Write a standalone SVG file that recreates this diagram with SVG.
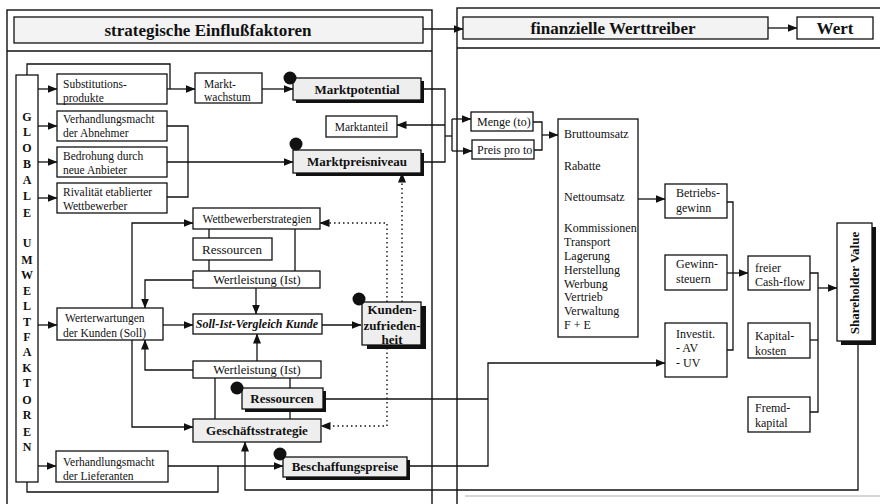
<svg xmlns="http://www.w3.org/2000/svg" width="880" height="504" viewBox="0 0 880 504">
<style>
.pnl{fill:none;stroke:#111;stroke-width:1.4}
.box{fill:#fff;stroke:#111;stroke-width:1.3}
.hbox{fill:#eeeeee;stroke:#111;stroke-width:1.3}
.tbox{fill:#f3f3f3;stroke:#111;stroke-width:1.3}
.sh{fill:#111}
.dotc{fill:#111}
.ln{fill:none;stroke:#111;stroke-width:1.3}
.dl{fill:none;stroke:#111;stroke-width:1.4;stroke-dasharray:1.5,3}
text{font-family:"Liberation Serif","Times New Roman",serif;fill:#111}
.t{font-size:11.5px}
.r{font-size:12px}
.c{text-anchor:middle}
.b{font-size:13px;font-weight:bold;text-anchor:middle}
.ti{font-size:17px;font-weight:bold;text-anchor:middle}
.g{font-size:12px;font-weight:bold;text-anchor:middle}
</style>
<defs>
<marker id="a" markerWidth="10" markerHeight="8" refX="9.5" refY="4" orient="auto" markerUnits="userSpaceOnUse"><path d="M0,0 L10,4 L0,8 z" fill="#111"/></marker>
</defs>
<rect x="0" y="0" width="880" height="504" fill="#fff"/>
<g id="panels">
<rect class="pnl" x="7" y="10" width="425" height="510"/>
<line class="pnl" x1="7" y1="51" x2="432" y2="51"/>
<rect class="pnl" x="457" y="8" width="440" height="510"/>
<line class="pnl" x1="457" y1="48" x2="880" y2="48"/>
<line x1="465" y1="496" x2="880" y2="496" stroke="#c8c8c8" stroke-width="1.4"/>
</g>
<g id="connectors">
<path class="ln" d="M423,29 H463" marker-end="url(#a)"/>
<path class="ln" d="M768,28 H797" marker-end="url(#a)"/>
<path class="ln" d="M38,89 H57" marker-end="url(#a)"/>
<path class="ln" d="M38,126 H57" marker-end="url(#a)"/>
<path class="ln" d="M38,162 H57" marker-end="url(#a)"/>
<path class="ln" d="M38,198 H57" marker-end="url(#a)"/>
<path class="ln" d="M38,325 H57" marker-end="url(#a)"/>
<path class="ln" d="M38,466 H56" marker-end="url(#a)"/>
<path class="ln" d="M27,75 V64 H170 V89"/>
<path class="ln" d="M167,89 H195" marker-end="url(#a)"/>
<path class="ln" d="M167,126 H188 V197 H167"/>
<path class="ln" d="M167,162 H293" marker-end="url(#a)"/>
<path class="ln" d="M262,89 H293" marker-end="url(#a)"/>
<path class="ln" d="M424,89 H445 V162 H424"/>
<path class="ln" d="M445,125 H397" marker-end="url(#a)"/>
<path class="ln" d="M445,136 H452"/>
<path class="ln" d="M452,119 V151"/>
<path class="ln" d="M452,119 H471" marker-end="url(#a)"/>
<path class="ln" d="M452,151 H472" marker-end="url(#a)"/>
<path class="ln" d="M533,122 H542 V150 H534"/>
<path class="ln" d="M542,135 H558" marker-end="url(#a)"/>
<path class="ln" d="M638,199 H665" marker-end="url(#a)"/>
<path class="ln" d="M727,202 H733 V350 H727"/>
<path class="ln" d="M727,273 H748" marker-end="url(#a)"/>
<path class="ln" d="M810,273 H818 V412 H810"/>
<path class="ln" d="M810,340 H818"/>
<path class="ln" d="M818,288 H837" marker-end="url(#a)"/>
<path class="ln" d="M858,343 V490 H245 V442" marker-end="url(#a)"/>
<path class="ln" d="M326,399 H488"/>
<path class="ln" d="M410,466 H488 V363 H665" marker-end="url(#a)"/>
<path class="ln" d="M168,466 H283" marker-end="url(#a)"/>
<path class="ln" d="M27,482 V492 H218 V466"/>
<path class="ln" d="M132,308 V223 H193" marker-end="url(#a)"/>
<path class="ln" d="M132,340 V427 H193" marker-end="url(#a)"/>
<path class="ln" d="M193,280 H145 V308" marker-end="url(#a)"/>
<path class="ln" d="M193,370 H145 V340" marker-end="url(#a)"/>
<path class="ln" d="M163,325 H193" marker-end="url(#a)"/>
<path class="ln" d="M256,288 V314" marker-end="url(#a)"/>
<path class="ln" d="M257,361 V334" marker-end="url(#a)"/>
<path class="ln" d="M322,325 H361" marker-end="url(#a)"/>
<path class="ln" d="M209,229 V238 M209,260 V271 M295,229 V271"/>
<path class="ln" d="M215,378 V419 M290,378 V388 M290,409 V419"/>
<path class="dl" d="M387,302 V223 H320" marker-end="url(#a)"/>
<path class="dl" d="M402,302 V173" marker-end="url(#a)"/>
<path class="dl" d="M387,348 V426 H321" marker-end="url(#a)"/>
</g>
<g id="title-left"><rect class="tbox" x="14" y="17" width="409" height="26"/><text class="ti" x="208" y="36">strategische Einflußfaktoren</text></g>
<g id="title-right"><rect class="tbox" x="463" y="17" width="305" height="22"/><text class="ti" x="613" y="34">finanzielle Werttreiber</text></g>
<g id="wert"><rect class="box" x="797" y="17" width="76" height="22"/><text class="ti" x="835" y="34">Wert</text></g>
<g id="globale"><rect class="box" x="16" y="75" width="22" height="407"/>
<text class="g"><tspan x="27" y="121">G</tspan><tspan x="27" y="136">L</tspan><tspan x="27" y="152">O</tspan><tspan x="27" y="168">B</tspan><tspan x="27" y="184">A</tspan><tspan x="27" y="200">L</tspan><tspan x="27" y="217">E</tspan><tspan x="27" y="247">U</tspan><tspan x="27" y="264">M</tspan><tspan x="27" y="279">W</tspan><tspan x="27" y="295">E</tspan><tspan x="27" y="310">L</tspan><tspan x="27" y="326">T</tspan><tspan x="27" y="341">F</tspan><tspan x="27" y="356">A</tspan><tspan x="27" y="372">K</tspan><tspan x="27" y="387">T</tspan><tspan x="27" y="404">O</tspan><tspan x="27" y="419">R</tspan><tspan x="27" y="436">E</tspan><tspan x="27" y="451">N</tspan></text></g>
<g id="substitution"><rect class="box" x="57" y="74" width="110" height="30"/><text class="t"><tspan x="63" y="88">Substitutions-</tspan><tspan x="63" y="102">produkte</tspan></text></g>
<g id="abnehmer"><rect class="box" x="57" y="111" width="110" height="30"/><text class="t"><tspan x="63" y="123">Verhandlungsmacht</tspan><tspan x="63" y="137">der Abnehmer</tspan></text></g>
<g id="anbieter"><rect class="box" x="57" y="147" width="110" height="30"/><text class="t"><tspan x="63" y="160">Bedrohung durch</tspan><tspan x="63" y="174">neue Anbieter</tspan></text></g>
<g id="rivalitaet"><rect class="box" x="57" y="183" width="110" height="30"/><text class="t"><tspan x="63" y="196">Rivalität etablierter</tspan><tspan x="63" y="210">Wettbewerber</tspan></text></g>
<g id="marktwachstum"><rect class="box" x="195" y="73" width="67" height="30"/><text class="t"><tspan x="204" y="88">Markt-</tspan><tspan x="204" y="101">wachstum</tspan></text></g>
<g id="marktpotential"><rect class="sh" x="296" y="81" width="128" height="22"/><rect class="hbox" x="293" y="78" width="128" height="22"/><text class="b" x="357" y="94">Marktpotential</text><circle class="dotc" cx="290" cy="78" r="6.5"/></g>
<g id="marktanteil"><rect class="box" x="326" y="116" width="71" height="21"/><text class="t c" x="361.5" y="131">Marktanteil</text></g>
<g id="marktpreisniveau"><rect class="sh" x="296" y="153" width="128" height="23"/><rect class="hbox" x="293" y="150" width="128" height="23"/><text class="b" x="357" y="166">Marktpreisniveau</text><circle class="dotc" cx="296" cy="144" r="6.5"/></g>
<g id="wettbewerberstrategien"><rect class="box" x="193" y="208" width="127" height="21"/><text class="t c" x="257" y="223">Wettbewerberstrategien</text></g>
<g id="ressourcen1"><rect class="box" x="193" y="238" width="79" height="22"/><text x="202" y="254" font-size="13">Ressourcen</text></g>
<g id="wertleistung1"><rect class="box" x="193" y="271" width="127" height="17"/><text class="c" x="257" y="284" font-size="12.5">Wertleistung (Ist)</text></g>
<g id="werterwartungen"><rect class="box" x="57" y="308" width="106" height="32"/><text class="t"><tspan x="65" y="322">Werterwartungen</tspan><tspan x="63" y="337">der Kunden (Soll)</tspan></text></g>
<g id="sollist"><rect class="box" x="193" y="314" width="129" height="20"/><text x="257" y="328" font-size="12" font-weight="bold" font-style="italic" text-anchor="middle">Soll-Ist-Vergleich Kunde</text></g>
<g id="kundenzufriedenheit"><rect class="sh" x="367" y="306" width="59" height="43"/><rect class="hbox" x="362" y="302" width="59" height="43"/><text class="b"><tspan x="392" y="314">Kunden-</tspan><tspan x="392" y="330">zufrieden-</tspan><tspan x="392" y="344">heit</tspan></text><circle class="dotc" cx="359" cy="299" r="6.5"/></g>
<g id="wertleistung2"><rect class="box" x="193" y="361" width="128" height="17"/><text class="c" x="257" y="374" font-size="12.5">Wertleistung (Ist)</text></g>
<g id="ressourcen2"><rect class="sh" x="245" y="391" width="81" height="21"/><rect class="hbox" x="242" y="388" width="81" height="21"/><text class="b" x="282" y="403">Ressourcen</text><circle class="dotc" cx="237" cy="388" r="6.5"/></g>
<g id="geschaeftsstrategie"><rect class="hbox" x="193" y="419" width="128" height="23"/><text class="b" x="257" y="435">Geschäftsstrategie</text></g>
<g id="lieferanten"><rect class="box" x="56" y="451" width="112" height="31"/><text class="t"><tspan x="63" y="466">Verhandlungsmacht</tspan><tspan x="63" y="480">der Lieferanten</tspan></text></g>
<g id="beschaffungspreise"><rect class="sh" x="286" y="460" width="124" height="20"/><rect class="hbox" x="283" y="457" width="124" height="20"/><text class="b" x="345" y="471">Beschaffungspreise</text><circle class="dotc" cx="280" cy="454" r="6.5"/></g>
<g id="menge"><rect class="box" x="471" y="112" width="62" height="19"/><text class="r" x="477" y="126">Menge (to)</text></g>
<g id="preis"><rect class="box" x="472" y="140" width="62" height="19"/><text class="r" x="477" y="154">Preis pro to</text></g>
<g id="umsatz"><rect class="box" x="558" y="119" width="80" height="218"/><text class="r"><tspan x="564" y="138">Bruttoumsatz</tspan><tspan x="564" y="170">Rabatte</tspan><tspan x="564" y="201">Nettoumsatz</tspan><tspan x="564" y="232">Kommissionen</tspan><tspan x="564" y="246">Transport</tspan><tspan x="564" y="260">Lagerung</tspan><tspan x="564" y="274">Herstellung</tspan><tspan x="564" y="288">Werbung</tspan><tspan x="564" y="301">Vertrieb</tspan><tspan x="564" y="315">Verwaltung</tspan><tspan x="564" y="329">F + E</tspan></text></g>
<g id="betriebsgewinn"><rect class="box" x="665" y="184" width="62" height="34"/><text class="r"><tspan x="676" y="197">Betriebs-</tspan><tspan x="676" y="212">gewinn</tspan></text></g>
<g id="gewinnsteuern"><rect class="box" x="665" y="255" width="62" height="35"/><text class="r"><tspan x="676" y="268">Gewinn-</tspan><tspan x="676" y="283">steuern</tspan></text></g>
<g id="investit"><rect class="box" x="665" y="323" width="62" height="54"/><text class="r"><tspan x="676" y="338">Investit.</tspan><tspan x="676" y="352">- AV</tspan><tspan x="676" y="367">- UV</tspan></text></g>
<g id="cashflow"><rect class="box" x="748" y="256" width="62" height="34"/><text class="r"><tspan x="755" y="272">freier</tspan><tspan x="755" y="286">Cash-flow</tspan></text></g>
<g id="kapitalkosten"><rect class="box" x="748" y="323" width="62" height="35"/><text class="r"><tspan x="755" y="340">Kapital-</tspan><tspan x="755" y="355">kosten</tspan></text></g>
<g id="fremdkapital"><rect class="box" x="748" y="397" width="62" height="35"/><text class="r"><tspan x="755" y="412">Fremd-</tspan><tspan x="755" y="427">kapital</tspan></text></g>
<g id="shareholder"><rect class="sh" x="841" y="227" width="35" height="118"/><rect class="box" x="837" y="223" width="35" height="118"/><text class="b" transform="translate(859,283) rotate(-90)" x="0" y="0">Shareholder Value</text></g>
</svg>
